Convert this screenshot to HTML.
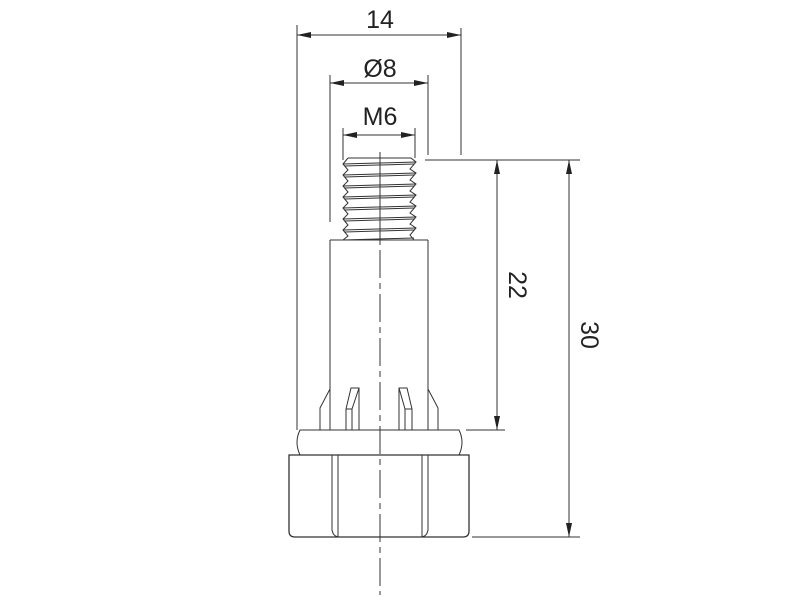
<!DOCTYPE html>
<html><head><style>body{margin:0;background:#fff}svg{display:block}</style></head><body>
<svg width="800" height="600" viewBox="0 0 800 600" xmlns="http://www.w3.org/2000/svg" font-family="Liberation Sans, sans-serif">
<defs><marker id="a" markerWidth="14" markerHeight="6" refX="14" refY="3" orient="auto" markerUnits="userSpaceOnUse"><path d="M0,0 L14,3 L0,6 Z" fill="#222"/></marker></defs>
<g stroke="#333" stroke-width="1" fill="none">
<line x1="297" y1="25" x2="297" y2="430"/>
<line x1="461" y1="28" x2="461" y2="155"/>
<line x1="330" y1="75" x2="330" y2="222"/>
<line x1="428" y1="75" x2="428" y2="155"/>
<line x1="343" y1="128" x2="343" y2="160"/>
<line x1="415" y1="128" x2="415" y2="158"/>
<line x1="425" y1="160" x2="580" y2="160"/>
<line x1="466" y1="430" x2="505" y2="430"/>
<line x1="472" y1="537" x2="580" y2="537"/>
<line x1="380" y1="35" x2="297" y2="35" marker-end="url(#a)"/>
<line x1="380" y1="35" x2="461" y2="35" marker-end="url(#a)"/>
<line x1="380" y1="83" x2="330" y2="83" marker-end="url(#a)"/>
<line x1="380" y1="83" x2="428" y2="83" marker-end="url(#a)"/>
<line x1="380" y1="135" x2="343" y2="135" marker-end="url(#a)"/>
<line x1="380" y1="135" x2="415" y2="135" marker-end="url(#a)"/>
<line x1="497" y1="300" x2="497" y2="160" marker-end="url(#a)"/>
<line x1="497" y1="300" x2="497" y2="430" marker-end="url(#a)"/>
<line x1="569" y1="350" x2="569" y2="160" marker-end="url(#a)"/>
<line x1="569" y1="350" x2="569" y2="537" marker-end="url(#a)"/>
<!-- thread -->
<path d="M348,158 L411,158 L416,162 L410,169 L416,173 L410,180 L416,184 L410,191 L416,195 L410,202 L416,206 L410,213 L416,217 L410,224 L416,228 L410,235 L414,240"/>
<path d="M348,158 L343,164 L348,170 L343,175 L348,181 L343,186 L348,192 L343,197 L348,203 L343,208 L348,214 L343,219 L348,225 L343,230 L348,236 L343,240"/>
<path d="M343,164 L416,162 M345,166 L414,164 M343,175 L416,173 M345,177 L414,175 M343,186 L416,184 M345,188 L414,186 M343,197 L416,195 M345,199 L414,197 M343,208 L416,206 M345,210 L414,208 M343,219 L416,217 M345,221 L414,219 M343,230 L416,228 M345,232 L414,230 M343,240 L414,238"/>
<path d="M330,240 L428,240 M330,240 L330,389 L320,408 L320,430 M428,240 L428,389 L438,408 L438,430"/>
<line x1="330" y1="389" x2="330" y2="430"/><line x1="428" y1="389" x2="428" y2="430"/>
<path d="M346,430 L346,409 L351,388 L359,388 L359,430 M352,409 L352,430 M346,409 L352,409 L359,388"/>
<path d="M412,430 L412,409 L407,388 L399,388 L399,430 M405,409 L405,430 M412,409 L405,409 L399,388"/>
<path d="M300,430 L459,430 Q465,442 459,455 L300,455 Q294,442 300,430 Z"/>
<path d="M289,455 L469,455 L469,531 Q469,537 463,537 L295,537 Q289,537 289,531 Z" stroke-width="1.3"/>
<path d="M332,455 L332,530 Q333,536 338,537 M338,455 L338,537 M428,455 L428,530 Q427,536 422,537 M422,455 L422,537"/>
<line x1="380" y1="152" x2="380" y2="245"/>
<line x1="380" y1="250" x2="380" y2="595" stroke-dasharray="28,5,6,5"/>
</g>
<g fill="#222" font-size="25" text-anchor="middle">
<text x="380" y="28">14</text>
<text x="380" y="77">Ø8</text>
<text x="380" y="125">M6</text>
<text transform="translate(509,285) rotate(90)">22</text>
<text transform="translate(581,335) rotate(90)">30</text>
</g>
</svg>
</body></html>
